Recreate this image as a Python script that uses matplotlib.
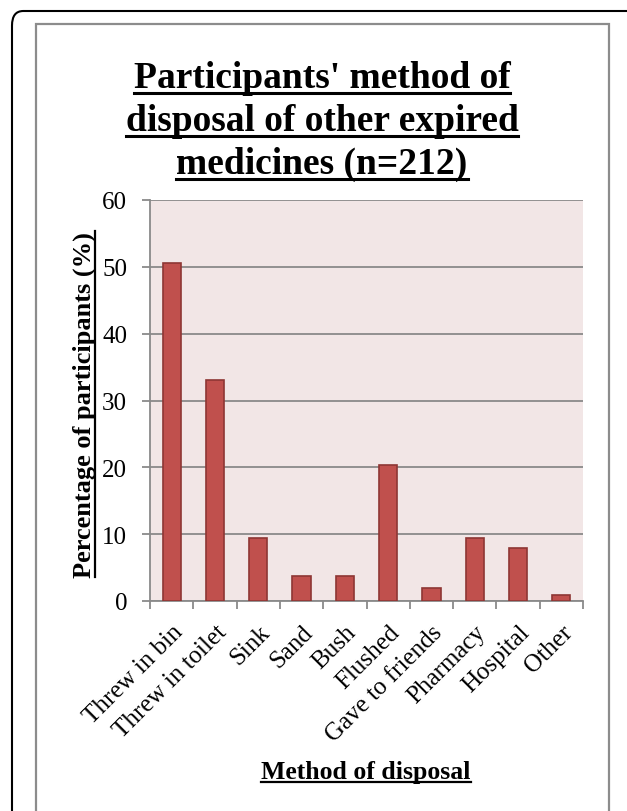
import matplotlib
matplotlib.use("Agg")
import matplotlib.pyplot as plt
from matplotlib.patches import FancyBboxPatch, Rectangle
from matplotlib.lines import Line2D

categories = ["Threw in bin", "Threw in toilet", "Sink", "Sand", "Bush", "Flushed",
              "Gave to friends", "Pharmacy", "Hospital", "Other"]
percentages = [50.5, 33.0, 9.4, 3.8, 3.8, 20.3, 1.9, 9.4, 8.0, 0.9]
y_ticks = [0, 10, 20, 30, 40, 50, 60]
title_lines = ["Participants' method of", "disposal of other expired", "medicines (n=212)"]
x_title = "Method of disposal"
y_title = "Percentage of participants (%)"

W, H = 627, 812
DPI = 100
plt.rcParams["font.family"] = ["Liberation Serif", "DejaVu Serif"]

fig = plt.figure(figsize=(W / DPI, H / DPI), dpi=DPI)
fig.patch.set_facecolor("white")


def fx(px):
    return px / W


def fy(py):
    return 1 - py / H


# outer rounded frame and inner grey frame
outer = FancyBboxPatch((fx(12), fy(830)), fx(640) - fx(12), fy(12) - fy(830),
                       boxstyle="round,pad=0,rounding_size=0.018",
                       transform=fig.transFigure, fill=False, edgecolor="black",
                       linewidth=1.5, zorder=0)
fig.patches.append(outer)
inner = Rectangle((fx(36), fy(830)), fx(609) - fx(36), fy(25) - fy(830),
                  transform=fig.transFigure, fill=False, edgecolor="#8c8c8c",
                  linewidth=1.6, zorder=0)
fig.patches.append(inner)

ax = fig.add_axes([fx(150), fy(602), fx(583) - fx(150), fy(201) - fy(602)])
ax.set_facecolor("#F2E6E6")

x = list(range(len(categories)))
ax.bar(x, percentages, width=0.42, color="#C0504D", edgecolor="#8E3634",
       linewidth=1.2, zorder=3)

ax.set_xlim(-0.5, len(categories) - 0.5)
ax.set_ylim(0, 60)
ax.set_yticks(y_ticks)
ax.set_yticklabels([str(v) for v in y_ticks], fontsize=18)
ax.yaxis.grid(True, color="#8a8a8a", linewidth=1.3, zorder=1)
ax.set_axisbelow(True)

ax.set_xticks([i - 0.5 for i in range(len(categories) + 1)])
ax.set_xticklabels([])
ax.set_xticks(x, minor=True)
ax.set_xticklabels(categories, minor=True, rotation=45, ha="right",
                   rotation_mode="anchor", fontsize=18)
ax.tick_params(axis="x", which="minor", length=0, pad=14)
ax.tick_params(axis="x", which="major", length=5.5, width=1.3, color="#8a8a8a",
               direction="out")
ax.tick_params(axis="y", length=5.5, width=1.3, color="#8a8a8a", direction="out",
               pad=11)

for side in ("top", "right"):
    ax.spines[side].set_visible(False)
for side in ("left", "bottom"):
    ax.spines[side].set_color("#8a8a8a")
    ax.spines[side].set_linewidth(1.3)

# title lines and axis titles (underlined afterwards)
underlined = []
for i, line in enumerate(title_lines):
    t = fig.text(fx(322), fy(88 + 43 * i), line, ha="center", va="baseline",
                 fontsize=27, fontweight="bold")
    underlined.append((t, 6, 2.2))

xt = fig.text(fx(366), fy(779), x_title, ha="center", va="baseline",
              fontsize=18.5, fontweight="bold")
underlined.append((xt, 4, 1.6))

yt = fig.text(fx(91), fy(405), y_title, ha="center", va="baseline",
              rotation=90, rotation_mode="anchor", fontsize=19,
              fontweight="bold")
underlined.append((yt, 4, 1.6))

fig.canvas.draw()
renderer = fig.canvas.get_renderer()
for t, off, lw in underlined:
    bb = t.get_window_extent(renderer)
    if t.get_rotation() == 90:
        # the baseline of the rotated text runs vertically at its x anchor
        xb = t.get_position()[0] * W + off
        fig.add_artist(Line2D([xb / W, xb / W], [bb.y0 / H, bb.y1 / H],
                              transform=fig.transFigure, color="black",
                              linewidth=lw))
    else:
        yb = t.get_position()[1] * H - off
        fig.add_artist(Line2D([bb.x0 / W, bb.x1 / W], [yb / H, yb / H],
                              transform=fig.transFigure, color="black",
                              linewidth=lw))

fig.savefig("out.png", dpi=DPI)
